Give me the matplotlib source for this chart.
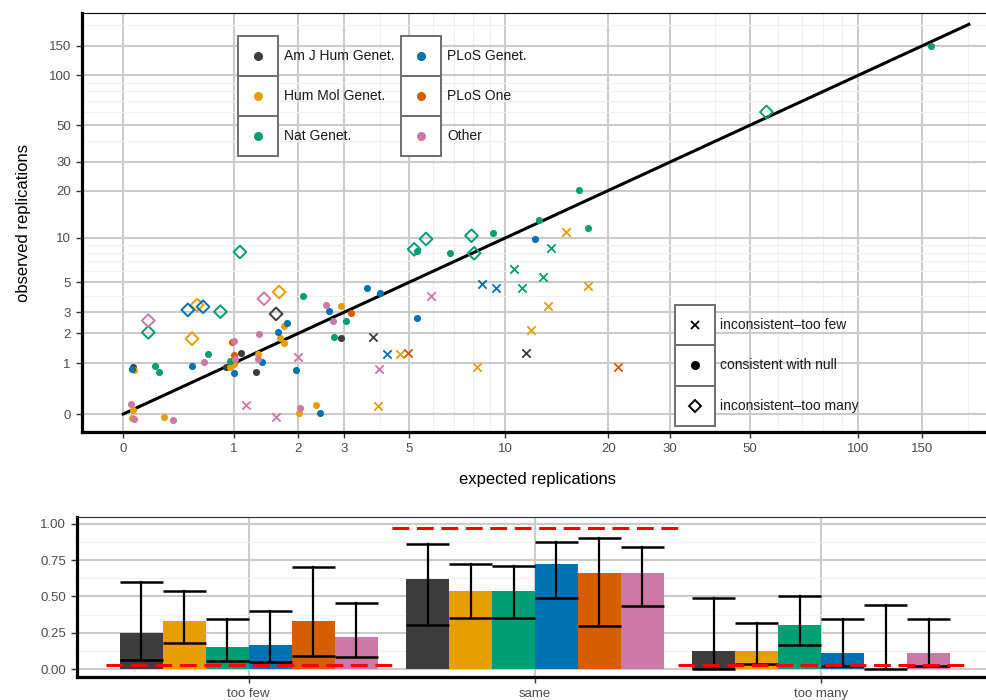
import numpy as np
import matplotlib.pyplot as plt
from matplotlib.patches import Rectangle
from matplotlib.lines import Line2D

plt.rcParams['font.family'] = ['Liberation Sans', 'DejaVu Sans']

# 저널 이름과 색
journals = ['Am J Hum Genet.', 'Hum Mol Genet.', 'Nat Genet.',
            'PLoS Genet.', 'PLoS One', 'Other']
journal_colors = ['#3D3D3D', '#E69F00', '#009E73', '#0072B2', '#D55E00', '#CC79A7']

# 상단 산점도 데이터
expected = [0.05, 0.065, 0.058, 0.072, 0.29, 0.37, 0.061, 0.054, 0.072, 0.22,
            0.25, 0.54, 0.66, 0.70, 0.17, 0.17, 0.50, 0.59, 0.65, 0.84,
            0.54, 1.42, 1.66, 1.61, 2.09, 0.98, 1.01, 1.00, 0.96, 1.02,
            0.90, 0.96, 1.00, 1.00, 1.10, 1.35, 1.64, 1.74, 1.80, 1.68,
            1.74, 1.33, 1.33, 1.39, 1.30, 1.96, 1.99, 1.16, 1.61, 2.03,
            2.01, 2.44, 2.35, 2.56, 2.65, 2.92, 3.18, 2.72, 3.06, 2.76,
            2.93, 3.79, 3.61, 4.01, 3.99, 3.94, 16.5, 12.6, 15.1, 17.5,
            12.3, 13.7, 5.69, 5.21, 5.33, 6.80, 7.90, 8.05, 9.20, 10.6,
            12.9, 11.2, 8.48, 9.39, 17.5, 5.92, 13.4, 5.32, 11.9, 4.25,
            4.69, 4.99, 11.5, 8.22, 21.3, 1.08, 55.7, 158.7]
observed = [0.14, 0.05, -0.057, -0.07, -0.036, -0.078, 0.89, 0.85, 0.82, 0.93,
            0.77, 0.93, 1.02, 1.26, 2.57, 2.04, 3.13, 3.41, 3.31, 3.03,
            1.79, 3.81, 4.27, 2.91, 3.99, 1.68, 1.70, 1.23, 1.06, 1.12,
            0.91, 0.91, 0.98, 0.74, 1.30, 1.96, 2.04, 2.32, 2.44, 1.80,
            1.62, 1.26, 1.12, 1.02, 0.77, 0.81, 1.17, 0.13, -0.036, 0.09,
            0.01, 0.01, 0.13, 3.40, 3.07, 3.34, 2.97, 2.56, 2.55, 1.84,
            1.83, 1.84, 4.54, 4.22, 0.85, 0.12, 20.2, 13.0, 11.0, 11.6,
            9.85, 8.64, 9.85, 8.43, 8.25, 8.0, 10.35, 7.93, 10.8, 6.21,
            5.47, 4.57, 4.90, 4.54, 4.70, 3.99, 3.34, 2.68, 2.15, 1.26,
            1.27, 1.30, 1.29, 0.90, 0.90, 8.09, 60.2, 149.5]
# 0=AJHG 1=HMG 2=Nat 3=PLoS Genet 4=PLoS One 5=Other
journal_idx = [5, 1, 1, 5, 1, 5, 0, 3, 1, 2,
               2, 3, 5, 2, 5, 2, 3, 1, 3, 2,
               1, 5, 1, 0, 2, 4, 5, 4, 2, 5,
               0, 1, 1, 3, 0, 5, 3, 1, 3, 1,
               1, 1, 5, 3, 0, 3, 5, 5, 5, 5,
               1, 3, 1, 5, 3, 1, 4, 5, 2, 2,
               0, 0, 3, 3, 5, 1, 2, 2, 1, 2,
               3, 2, 2, 2, 2, 2, 2, 2, 2, 2,
               2, 2, 3, 3, 1, 5, 1, 3, 1, 3,
               1, 4, 0, 1, 4, 2, 2, 2]
# f = inconsistent-too few, n = consistent, m = inconsistent-too many
status = list('nnnnnnnnnn'
              'nnnnmmmmmm'
              'mmmmnnnnnn'
              'nnnnnnnnnn'
              'nnnnnnfffn'
              'nnnnnnnnnn'
              'nfnnffnnfn'
              'nfmmnnmmnf'
              'fffffffnff'
              'fffffmmn')

# 하단 막대 그래프 데이터
categories = ['too few', 'same', 'too many']
prop = [[0.25, 0.333, 0.152, 0.166, 0.333, 0.221],
        [0.62, 0.54, 0.54, 0.724, 0.664, 0.664],
        [0.124, 0.124, 0.303, 0.108, 0.0, 0.108]]
lower = [[0.062, 0.177, 0.057, 0.050, 0.092, 0.085],
         [0.301, 0.352, 0.354, 0.488, 0.297, 0.434],
         [0.002, 0.037, 0.166, 0.023, 0.0, 0.023]]
upper = [[0.60, 0.535, 0.343, 0.40, 0.703, 0.455],
         [0.864, 0.722, 0.71, 0.878, 0.906, 0.839],
         [0.492, 0.319, 0.501, 0.343, 0.444, 0.343]]
null_expect = [0.025, 0.975, 0.025]

W, H = 987, 700
fig = plt.figure(figsize=(W / 100, H / 100), dpi=100)


def fig_box(x0, y0, x1, y1):
    """ 픽셀 좌표(위가 0) -> figure 비율 [left, bottom, width, height] """
    return [x0 / W, 1 - y1 / H, (x1 - x0) / W, (y1 - y0) / H]


grid_major = '#CBCBCB'
grid_minor = '#F0F0F0'
tick_col = '#4D4D4D'

# ---------------- 상단 패널 ----------------
ax = fig.add_axes(fig_box(82, 13, 993, 432))
ax.set_xscale('function', functions=(np.log1p, np.expm1))
ax.set_yscale('function', functions=(np.log1p, np.expm1))
ax.set_xlim(np.expm1(-0.259), np.expm1(5.46))
ax.set_ylim(np.expm1(-0.245), np.expm1(5.463))

major = [0, 1, 2, 3, 5, 10, 20, 30, 50, 100, 150]
minor = [4, 6, 7, 8, 9, 40, 60, 70, 80, 90, 200]
for a in (ax.xaxis, ax.yaxis):
    a.set_ticks(major)
    a.set_ticklabels([str(m) for m in major])
    a.set_ticks(minor, minor=True)
ax.tick_params(which='minor', length=0)
ax.tick_params(which='major', length=4, width=1, color='#333333',
               labelsize=9.5, labelcolor=tick_col, pad=4)
ax.grid(True, which='major', color=grid_major, lw=1.5, zorder=0)
ax.grid(True, which='minor', color=grid_minor, lw=0.8, zorder=0)
ax.set_axisbelow(True)

ax.spines['right'].set_visible(False)
ax.spines['left'].set_linewidth(2.3)
ax.spines['bottom'].set_linewidth(2.3)
ax.spines['top'].set_linewidth(0.8)

# y = x 대각선
diag = np.linspace(0, 201, 400)
ax.plot(diag, diag, color='black', lw=2.2, zorder=3)

expected = np.array(expected)
observed = np.array(observed)
journal_idx = np.array(journal_idx)
status = np.array(status)
for j, col in enumerate(journal_colors):
    sel = (journal_idx == j) & (status == 'n')
    ax.scatter(expected[sel], observed[sel], s=26, color=col, lw=0, zorder=4)
    sel = (journal_idx == j) & (status == 'f')
    ax.scatter(expected[sel], observed[sel], s=36, marker='x', color=col,
               lw=1.3, zorder=4)
    sel = (journal_idx == j) & (status == 'm')
    ax.scatter(expected[sel], observed[sel], s=42, marker='D', facecolor='none',
               edgecolor=col, lw=1.4, zorder=4)

ax.set_xlabel('expected replications', fontsize=12, labelpad=12)
ax.set_ylabel('observed replications', fontsize=12, labelpad=13)

# 저널 범례 (박스 형태)
key_col = '#6E6E6E'
for j, name in enumerate(journals):
    col_i, row_i = divmod(j, 3)
    x0 = 238 if col_i == 0 else 401
    y0 = 36 + row_i * 40
    fig.add_artist(Rectangle((x0 / W, 1 - (y0 + 40) / H), 40 / W, 40 / H,
                             transform=fig.transFigure, facecolor='white',
                             edgecolor=key_col, lw=1.4, zorder=10))
    fig.add_artist(Line2D([(x0 + 20) / W], [1 - (y0 + 20) / H], marker='o',
                          markersize=5.5, color=journal_colors[j], lw=0,
                          transform=fig.transFigure, zorder=11))
    fig.text((x0 + 46) / W, 1 - (y0 + 20) / H, name, fontsize=10,
             va='center', ha='left', color='#1A1A1A', zorder=11)

# 모양 범례
shape_items = [('x', 'inconsistent\u2013too few'), ('o', 'consistent with null'),
               ('D', 'inconsistent\u2013too many')]
for k, (mk, label) in enumerate(shape_items):
    x0, y0 = 675, 305 + k * 40.3
    fig.add_artist(Rectangle((x0 / W, 1 - (y0 + 40.3) / H), 40 / W, 40.3 / H,
                             transform=fig.transFigure, facecolor='white',
                             edgecolor=key_col, lw=1.4, zorder=10))
    if mk == 'D':
        fig.add_artist(Line2D([(x0 + 20) / W], [1 - (y0 + 20) / H], marker='D',
                              markersize=6.5, markerfacecolor='none',
                              markeredgecolor='black', markeredgewidth=1.4, lw=0,
                              transform=fig.transFigure, zorder=11))
    elif mk == 'x':
        fig.add_artist(Line2D([(x0 + 20) / W], [1 - (y0 + 20) / H], marker='x',
                              markersize=6, color='black', markeredgewidth=1.3,
                              lw=0, transform=fig.transFigure, zorder=11))
    else:
        fig.add_artist(Line2D([(x0 + 20) / W], [1 - (y0 + 20) / H], marker='o',
                              markersize=5.5, color='black', lw=0,
                              transform=fig.transFigure, zorder=11))
    fig.text((x0 + 45) / W, 1 - (y0 + 20) / H, label, fontsize=10,
             va='center', ha='left', color='#1A1A1A', zorder=11)

# ---------------- 하단 패널 ----------------
bx = fig.add_axes(fig_box(77, 517, 993, 677))
bx.set_xlim(0.4, 3.6)
bx.set_ylim(-0.055, 1.048)
n_j = len(journals)
bw = 0.9 / n_j
for c in range(len(categories)):
    for j in range(n_j):
        xc = (c + 1) - 0.45 + bw * (j + 0.5)
        bx.bar(xc, prop[c][j], width=bw, color=journal_colors[j], zorder=2)
        bx.plot([xc, xc], [lower[c][j], upper[c][j]], color='black', lw=1.6,
                zorder=3)
        for yv in (lower[c][j], upper[c][j]):
            bx.plot([xc - bw / 2, xc + bw / 2], [yv, yv], color='black',
                    lw=1.8, zorder=3, solid_capstyle='butt')
    bx.plot([c + 0.5, c + 1.5], [null_expect[c]] * 2, color='red', lw=2.2,
            dashes=(5.5, 2.5), zorder=4)

bx.set_xticks([1, 2, 3])
bx.set_xticklabels(categories)
bx.set_yticks([0, 0.25, 0.5, 0.75, 1.0])
bx.set_yticklabels(['0.00', '0.25', '0.50', '0.75', '1.00'])
bx.set_yticks([0.125, 0.375, 0.625, 0.875], minor=True)
bx.tick_params(which='minor', length=0)
bx.tick_params(which='major', length=4, width=1, color='#333333',
               labelsize=9.5, labelcolor=tick_col, pad=4)
bx.grid(True, which='major', color=grid_major, lw=1.5, zorder=0)
bx.grid(True, which='minor', axis='y', color=grid_minor, lw=0.8, zorder=0)
bx.set_axisbelow(True)
bx.spines['right'].set_visible(False)
bx.spines['left'].set_linewidth(2.3)
bx.spines['bottom'].set_linewidth(2.3)
bx.spines['top'].set_linewidth(0.8)
bx.spines['top'].set_color('#333333')

fig.savefig('out.png', dpi=100)
